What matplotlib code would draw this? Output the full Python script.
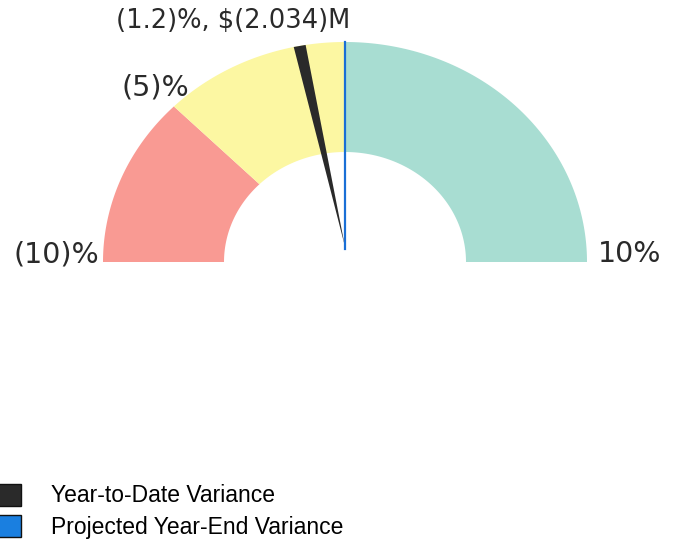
import numpy as np
import matplotlib.pyplot as plt
from matplotlib.patches import Polygon, Patch

plt.rcParams['font.family'] = ['DejaVu Sans']

# gauge bands (variance %)
band_starts = [-10, -5, 0]
band_ends = [-5, 0, 10]
band_colors = ['#f99a93', '#fcf7a2', '#a8ddd2']

scale_labels = ['(10)%', '(5)%', '10%']
scale_values = [-10, -5, 10]

ytd_variance = -1.2
ytd_label = '(1.2)%, $(2.034)M'
projected_variance = 0.0

legend_labels = ['Year-to-Date Variance', 'Projected Year-End Variance']

vmin, vmax = -10, 10
r_in, r_out = 0.5, 1.0


def angle(v):
    return np.pi * (vmax - v) / (vmax - vmin)


fig = plt.figure(figsize=(6.75, 5.53), dpi=100)
ax = fig.add_axes([0, 0, 1, 1])
# center at pixel (345, 262); x radius 242 px, y radius 220 px
ax.set_xlim(-345 / 242, 330 / 242)
ax.set_ylim(-291 / 220, 262 / 220)
ax.axis('off')

for s, e, c in zip(band_starts, band_ends, band_colors):
    t = np.linspace(angle(s), angle(e), 100)
    pts = np.concatenate([
        np.column_stack([r_out * np.cos(t), r_out * np.sin(t)]),
        np.column_stack([r_in * np.cos(t[::-1]), r_in * np.sin(t[::-1])]),
    ])
    ax.add_patch(Polygon(pts, closed=True, facecolor=c, edgecolor='none'))

# year-to-date needle
a = angle(ytd_variance)
d = 0.025
needle = [(0, 0.07),
          (1.0 * np.cos(a - d), 1.0 * np.sin(a - d)),
          (1.0 * np.cos(a + d), 1.0 * np.sin(a + d))]
ax.add_patch(Polygon(needle, closed=True, facecolor='#2a2a2a', edgecolor='none', zorder=3))

# projected year-end line
b = angle(projected_variance)
ax.plot([0, np.cos(b)], [0.06, np.sin(b)], color='#1a6fd6', lw=1.6, zorder=4)

# scale labels
lab_kw = dict(textcoords='offset points', color='#2a2a2a')
for lab, v in zip(scale_labels, scale_values):
    t = angle(v)
    x, y = np.cos(t), np.sin(t)
    if v == vmin:
        ax.annotate(lab, (x, y), xytext=(-3, 0), ha='right', va='baseline', fontsize=20.5, **lab_kw)
    elif v == vmax:
        ax.annotate(lab, (x, y), xytext=(8, 0), ha='left', va='baseline', fontsize=20.5, **lab_kw)
    else:
        ax.annotate(lab, (x, y), xytext=(11, 8), ha='right', va='baseline', fontsize=20.5, **lab_kw)

t = angle(ytd_variance)
ax.annotate(ytd_label, (np.cos(t), np.sin(t)), xytext=(-48, 13),
            ha='center', va='baseline', fontsize=18.5, **lab_kw)

handles = [Patch(facecolor='#2a2a2a', edgecolor='#111111'),
           Patch(facecolor='#1a7fe0', edgecolor='#111111')]
fig.legend(handles, legend_labels, loc='upper left', bbox_to_anchor=(-0.021, 0.142),
           frameon=False, prop={'family': 'Liberation Sans', 'size': 16.5},
           handlelength=1.13, handleheight=1.1,
           handletextpad=1.3, labelspacing=0.35, borderaxespad=0)

fig.savefig('out.png', dpi=100)
